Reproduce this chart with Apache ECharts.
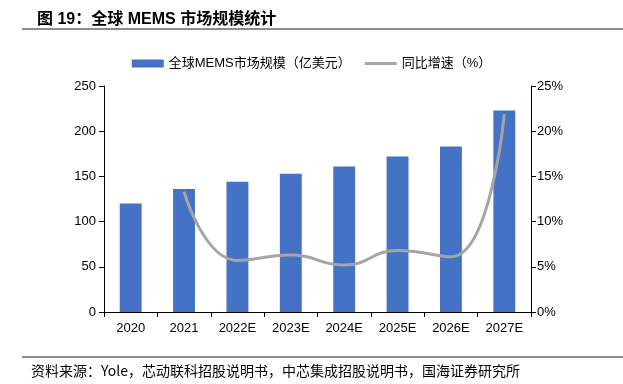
<!DOCTYPE html>
<html><head><meta charset="utf-8">
<script src="https://cdn.jsdelivr.net/npm/echarts@6/dist/echarts.min.js"></script>
<style>html,body{margin:0;padding:0;background:#fff}#c{width:623px;height:384px}</style>
</head><body><div id="c"></div>
<script>
var categories = ['2020','2021','2022E','2023E','2024E','2025E','2026E','2027E'];
var marketSize = [120,136,144,153,161,172,183,223];
var growthPct = [null,13.3,5.7,6.3,5.2,6.8,6.1,21.9];

var chart = echarts.init(document.getElementById('c'));
var font = '"Liberation Sans", Arial, "Noto Sans CJK SC", sans-serif';
chart.setOption({
  animation:false,
  textStyle:{fontFamily:font},
  title:{text:'图 19：全球 MEMS 市场规模统计',left:32,top:7,textStyle:{fontSize:16,fontWeight:'bold',color:'#000',fontFamily:'"Liberation Sans","Noto Sans CJK SC",sans-serif'}},
  graphic:[
    {type:'line',shape:{x1:22,y1:29,x2:623,y2:29},style:{stroke:'#666',lineWidth:1.5}},
    {type:'line',shape:{x1:22,y1:357,x2:623,y2:357},style:{stroke:'#666',lineWidth:1.5}},
    {type:'text',left:31,top:364,style:{text:'资料来源：Yole，芯动联科招股说明书，中芯集成招股说明书，国海证券研究所',fontSize:14,fill:'#000',fontFamily:'"Noto Sans CJK SC","Liberation Sans",sans-serif'}}
  ],
  legend:{top:52,left:'center',itemGap:14,itemWidth:32,itemHeight:8,textStyle:{fontSize:13,color:'#000',fontFamily:'"Liberation Sans","Noto Sans CJK SC",sans-serif'},
    data:[{name:'全球MEMS市场规模（亿美元）',icon:'rect'},{name:'同比增速（%）',icon:'path://M0,0 L32,0 L32,3 L0,3 Z',itemStyle:{color:'#A5A5A5'}}]},
  grid:{left:104,right:92,top:86,bottom:72},
  xAxis:{type:'category',data:categories,boundaryGap:true,
    axisLine:{lineStyle:{color:'#000'}},axisTick:{show:true,alignWithLabel:false,length:5,inside:false,lineStyle:{color:'#000'}},
    axisLabel:{color:'#000',fontSize:13,margin:10}},
  yAxis:[
    {type:'value',min:0,max:250,interval:50,splitLine:{show:false},
      axisLine:{show:true,lineStyle:{color:'#000'}},axisTick:{show:true,length:5,lineStyle:{color:'#000'}},
      axisLabel:{color:'#000',fontSize:13,margin:8}},
    {type:'value',min:0,max:25,interval:5,splitLine:{show:false},position:'right',
      axisLine:{show:true,lineStyle:{color:'#000'}},axisTick:{show:true,length:5,lineStyle:{color:'#000'}},
      axisLabel:{color:'#000',fontSize:13,margin:6,formatter:'{value}%'}}
  ],
  series:[
    {name:'全球MEMS市场规模（亿美元）',type:'bar',data:marketSize,barWidth:'41%',itemStyle:{color:'#4472C4'},yAxisIndex:0},
    {name:'同比增速（%）',type:'line',data:growthPct,yAxisIndex:1,smooth:0.5,symbol:'none',lineStyle:{color:'#A5A5A5',width:3},itemStyle:{color:'#A5A5A5'}}
  ]
});
</script></body></html>
